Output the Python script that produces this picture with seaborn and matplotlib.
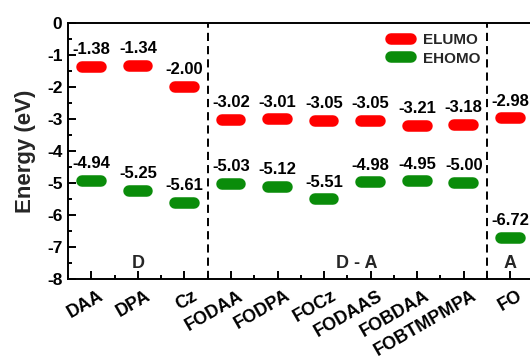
import matplotlib
matplotlib.use("Agg")
import matplotlib.pyplot as plt
import matplotlib.transforms as mtransforms
from matplotlib.lines import Line2D
from matplotlib.ticker import MultipleLocator
import pandas as pd
import seaborn as sns

# Frontier orbital energies (eV) of donors, donor-acceptor compounds and acceptor
molecules = ["DAA", "DPA", "Cz", "FODAA", "FODPA", "FOCz", "FODAAS",
             "FOBDAA", "FOBTMPMPA", "FO"]
e_lumo = [-1.38, -1.34, -2.00, -3.02, -3.01, -3.05, -3.05, -3.21, -3.18, -2.98]
e_homo = [-4.94, -5.25, -5.61, -5.03, -5.12, -5.51, -4.98, -4.95, -5.00, -6.72]
group_names = ["D", "D - A", "A"]
group_centers = [2, 6.7, 10]

RED = "#ff0000"
GREEN = "#0a8c0a"

sns.set_theme(style="ticks")
plt.rcParams["font.family"] = ["Liberation Sans", "DejaVu Sans"]
plt.rcParams["font.weight"] = "bold"
plt.rcParams["axes.unicode_minus"] = False
plt.rcParams["axes.axisbelow"] = False
for ax_name in ("xtick", "ytick"):
    plt.rcParams[f"{ax_name}.direction"] = "in"
    plt.rcParams[f"{ax_name}.color"] = "black"
    plt.rcParams[f"{ax_name}.major.size"] = 5.8
    plt.rcParams[f"{ax_name}.minor.size"] = 3.2
    plt.rcParams[f"{ax_name}.major.width"] = 1.4
    plt.rcParams[f"{ax_name}.minor.width"] = 1.4

# long-form table: each energy level is a short horizontal segment
half = 0.2
rows = []
for i, name in enumerate(molecules, start=1):
    for level, vals in (("ELUMO", e_lumo), ("EHOMO", e_homo)):
        for dx in (-half, half):
            rows.append({"x": i + dx, "E": vals[i - 1], "level": level,
                         "seg": f"{name}-{level}"})
df = pd.DataFrame(rows)

fig = plt.figure(figsize=(5.30, 3.56), dpi=100)
ax = fig.add_axes([68 / 530, 77 / 356, 465.6 / 530, 256 / 356])

lw = 8.3
sns.lineplot(data=df, x="x", y="E", hue="level", units="seg", estimator=None,
             sort=False, palette={"ELUMO": RED, "EHOMO": GREEN},
             linewidth=lw, legend=False, ax=ax)
for ln in ax.lines:
    ln.set_solid_capstyle("round")

ax.set_xlim(0.5, 10.5)
ax.set_ylim(-8, 0)
ax.yaxis.set_major_locator(MultipleLocator(1))
ax.yaxis.set_minor_locator(MultipleLocator(0.5))
ax.set_xticks(range(1, len(molecules) + 1))
ax.xaxis.set_minor_locator(MultipleLocator(0.5))
ax.tick_params(which="both", direction="in", left=True, bottom=True,
               top=False, right=False, color="black")
ax.tick_params(axis="y", pad=4)
ax.tick_params(axis="x", which="major", pad=6)

ax.set_xticklabels(molecules, rotation=30, ha="right", va="top",
                   rotation_mode="anchor", fontsize=13, fontweight="bold")
shift = mtransforms.ScaledTranslation(7 / 100, 0, fig.dpi_scale_trans)
for lab in ax.get_xticklabels():
    lab.set_transform(lab.get_transform() + shift)
for lab in ax.get_yticklabels():
    lab.set_fontweight("bold")
    lab.set_fontsize(12.5)

for sp in ax.spines.values():
    sp.set_linewidth(1.4)
    sp.set_color("black")

ax.set_xlabel("")
ax.set_ylabel("Energy (eV)", fontsize=16, fontweight="bold", labelpad=8)

# value labels above each level
for i in range(len(molecules)):
    for vals in (e_lumo, e_homo):
        ax.annotate(f"{vals[i]:.2f}", (i + 1, vals[i]), xytext=(0, 9.2),
                    textcoords="offset points", ha="center", va="baseline",
                    fontsize=12, fontweight="bold", color="black")

# group separators
for xs in (3.5, 9.5):
    ax.axvline(xs, color="black", lw=1.4, dashes=(4.2, 2.6), zorder=1)

for name, xc in zip(group_names, group_centers):
    ax.text(xc, -7.66, name, ha="center", va="baseline",
            fontsize=13, fontweight="bold")

handles = [Line2D([], [], color=RED, lw=lw, solid_capstyle="round"),
           Line2D([], [], color=GREEN, lw=lw, solid_capstyle="round")]
ax.legend(handles, ["ELUMO", "EHOMO"], loc="upper left",
          bbox_to_anchor=(0.693, 0.96), frameon=False,
          handlelength=1.34, handletextpad=0.8, labelspacing=0.3,
          borderpad=0, borderaxespad=0, prop={"weight": "bold", "size": 11})

fig.savefig("out.png", dpi=100)
